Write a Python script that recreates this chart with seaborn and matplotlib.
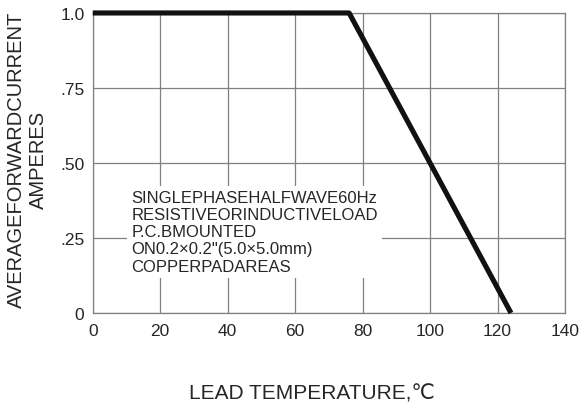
import matplotlib
matplotlib.use("Agg")
import matplotlib.pyplot as plt
import seaborn as sns
import pandas as pd

# derating curve: lead temperature vs average forward current
temp_c = [0, 76, 124]
current_a = [1.0, 1.0, 0.0]

x_ticks = [0, 20, 40, 60, 80, 100, 120, 140]
y_ticks = [0, 0.25, 0.50, 0.75, 1.0]
y_tick_labels = ["0", ".25", ".50", ".75", "1.0"]

note_lines = [
    "SINGLEPHASEHALFWAVE60Hz",
    "RESISTIVEORINDUCTIVELOAD",
    "P.C.BMOUNTED",
    "ON0.2\u00d70.2\"(5.0\u00d75.0mm)",
    "COPPERPADAREAS",
]

df = pd.DataFrame({"temp": temp_c, "current": current_a})

sns.set_theme(style="white")
plt.rcParams["font.family"] = ["Liberation Sans", "DejaVu Sans"]

fig = plt.figure(figsize=(5.87, 4.06), dpi=100)
ax = fig.add_axes([0.158, 0.2266, 0.8045, 0.739])

sns.lineplot(data=df, x="temp", y="current", ax=ax, color="#111111",
             linewidth=3.7, solid_capstyle="butt", zorder=5, clip_on=False)

ax.set_xlim(0, 140)
ax.set_ylim(0, 1.0)
ax.set_xticks(x_ticks)
ax.set_yticks(y_ticks)
ax.set_yticklabels(y_tick_labels)
ax.tick_params(length=0, labelsize=12.5, labelcolor="#262626")
ax.tick_params(axis="x", pad=7)
ax.tick_params(axis="y", pad=6)
ax.grid(True, color="#808080", linewidth=0.9)
for s in ax.spines.values():
    s.set_color("#808080")
    s.set_linewidth(0.9)

ax.set_xlabel("LEAD TEMPERATURE,\u2103", fontsize=15, color="#262626")
ax.xaxis.set_label_coords(0.464, -0.235)
ax.set_ylabel("AVERAGEFORWARDCURRENT\nAMPERES", fontsize=14.5, color="#262626")
ax.yaxis.set_label_coords(-0.095, 0.515)

ax.text(11.5, 0.41, "\n".join(note_lines), fontsize=12, color="#262626",
        va="top", ha="left", linespacing=1.18, zorder=4,
        bbox=dict(facecolor="white", edgecolor="none", pad=3))

fig.savefig("out.png", dpi=100)
